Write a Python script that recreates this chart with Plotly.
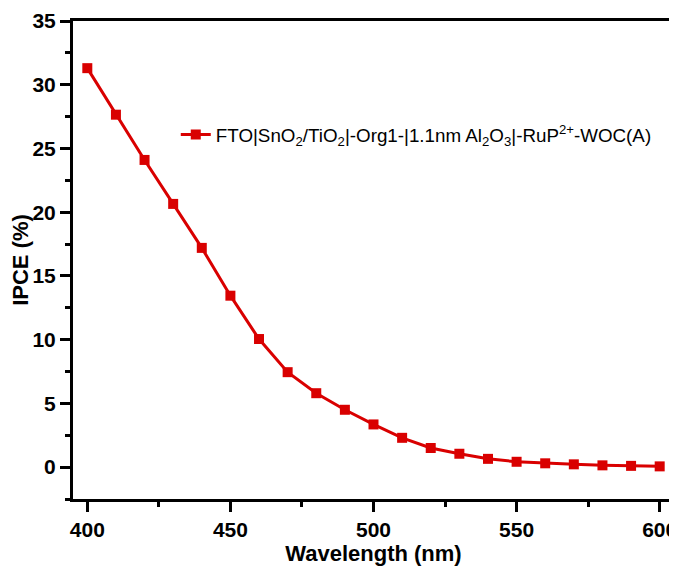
import plotly.graph_objects as go

wavelength = [400, 410, 420, 430, 440, 450, 460, 470, 480, 490, 500,
              510, 520, 530, 540, 550, 560, 570, 580, 590, 600]
ipce = [31.3, 27.65, 24.1, 20.65, 17.2, 13.45, 10.05, 7.45, 5.8, 4.5, 3.35,
        2.3, 1.5, 1.05, 0.65, 0.42, 0.3, 0.22, 0.14, 0.1, 0.06]
series_name = ("FTO|SnO<sub>2</sub>/TiO<sub>2</sub>|-Org1-|1.1nm Al<sub>2</sub>O<sub>3</sub>"
               "|-RuP<sup>2+</sup>-WOC(A)")
x_ticks = [400, 450, 500, 550, 600]
y_ticks = [0, 5, 10, 15, 20, 25, 30, 35]

red = "#d90000"
font_family = "Liberation Sans, Arial, sans-serif"

fig = go.Figure()
fig.add_trace(go.Scatter(
    x=wavelength, y=ipce, mode="lines+markers", name=series_name,
    line=dict(color=red, width=3),
    marker=dict(symbol="square", size=10, color=red),
))

axis_common = dict(
    showline=True, linecolor="black", linewidth=3, mirror=True,
    showgrid=False, zeroline=False, ticks="outside", tickcolor="black",
    ticklen=10, tickwidth=2.5, automargin=False,
    tickfont=dict(family=font_family, size=21, color="black", weight="bold"),
    minor=dict(ticks="outside", ticklen=5, tickwidth=2.5, tickcolor="black"),
)

fig.update_layout(
    width=677, height=566,
    margin=dict(l=65, r=11, t=13, b=75),
    paper_bgcolor="white", plot_bgcolor="white",
    showlegend=True,
    legend=dict(
        x=0.171, y=0.762, xanchor="left", yanchor="middle",
        bgcolor="rgba(0,0,0,0)",
        font=dict(family=font_family, size=18.8, color="black"),
    ),
    xaxis=dict(axis_common, range=[395, 605], tickvals=x_ticks,
               minor=dict(axis_common["minor"], dtick=25, tick0=400),
               title=dict(text="Wavelength (nm)", standoff=4,
                          font=dict(family=font_family, size=22, color="black", weight="bold"))),
    yaxis=dict(axis_common, range=[-2.5, 35], tickvals=y_ticks,
               minor=dict(axis_common["minor"], dtick=2.5, tick0=0),
               title=dict(text="IPCE (%)", standoff=1,
                          font=dict(family=font_family, size=22, color="black", weight="bold"))),
)

fig.write_html("out.html")
